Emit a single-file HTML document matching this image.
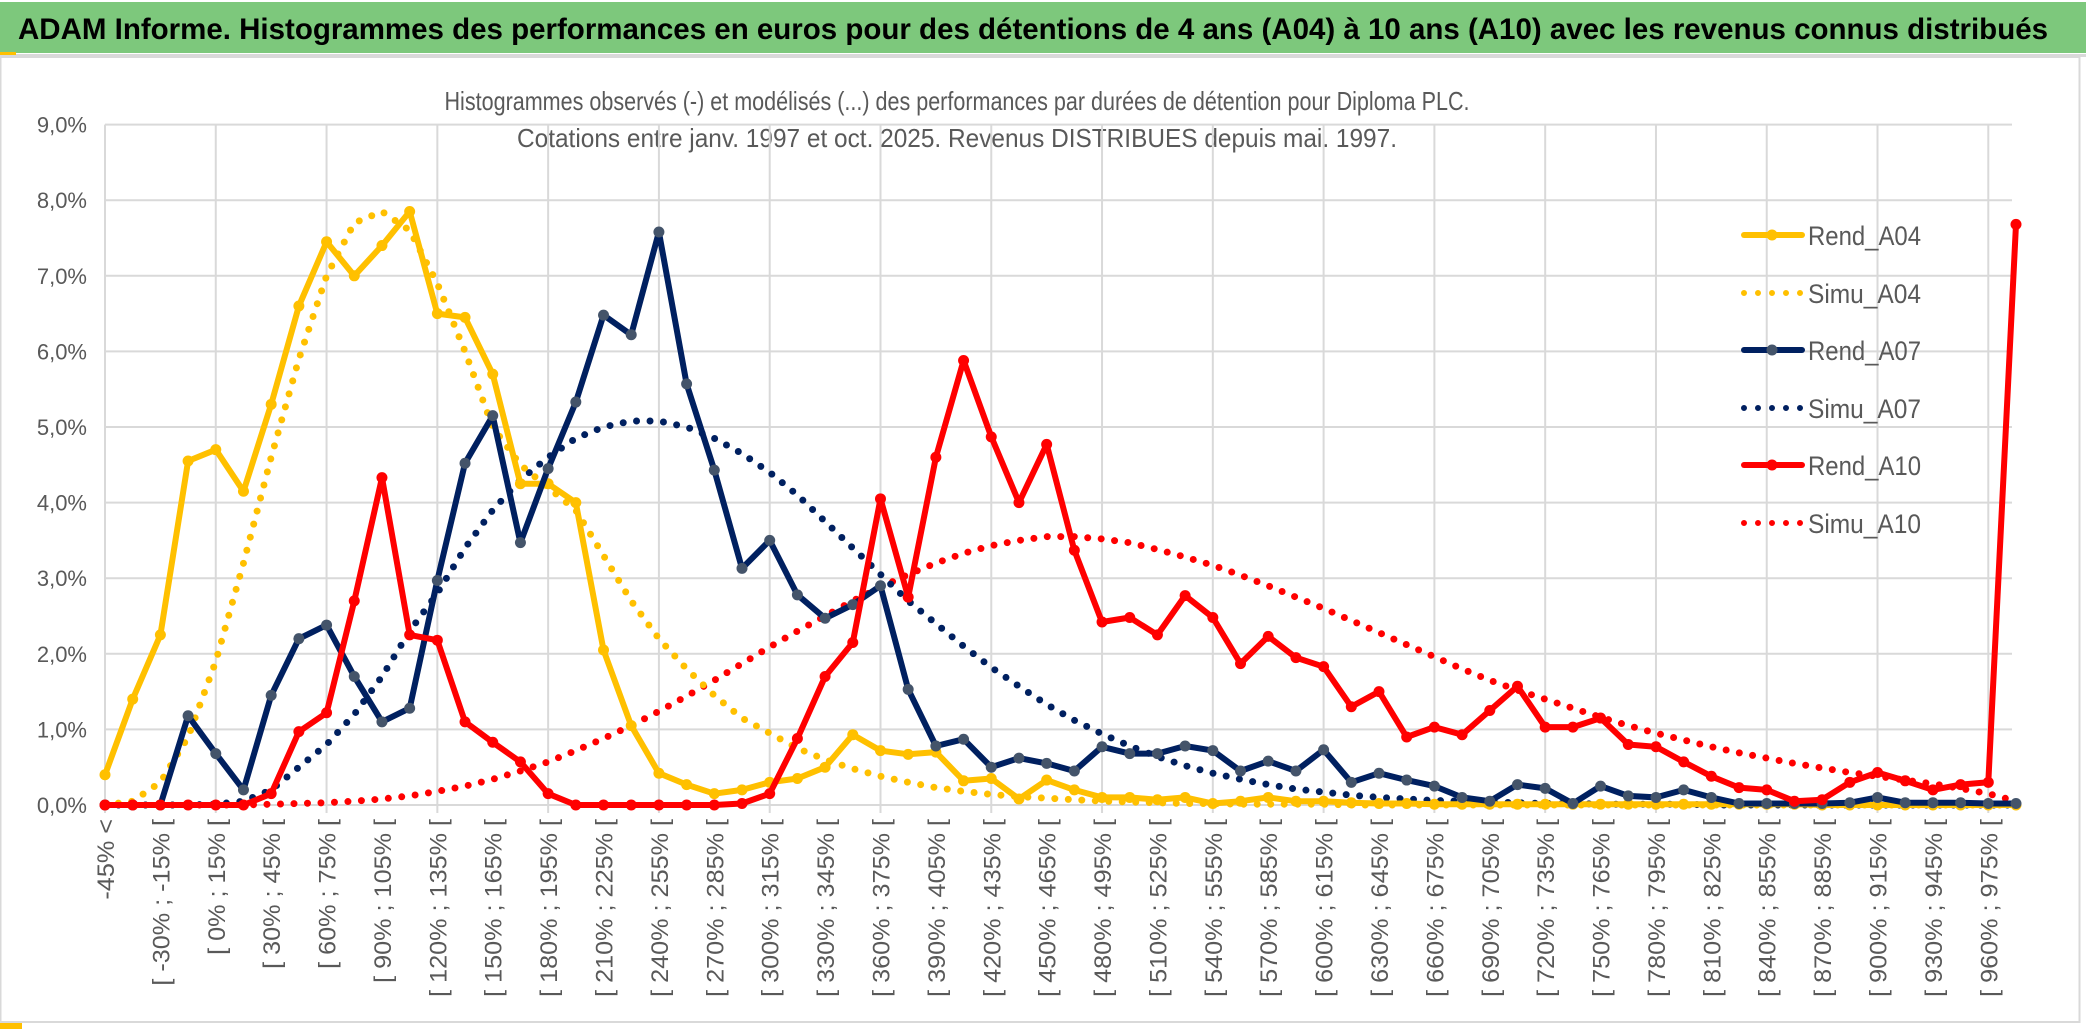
<!DOCTYPE html>
<html><head><meta charset="utf-8"><title>ADAM Informe</title>
<style>
html,body{margin:0;padding:0;background:#fff;}
svg{display:block;font-family:"Liberation Sans",sans-serif;}
</style></head>
<body>
<svg id="chart" width="2086" height="1033" viewBox="0 0 2086 1033" xmlns="http://www.w3.org/2000/svg">
  <rect x="0" y="0" width="2086" height="1033" fill="#fff"/>
  <rect x="0" y="2" width="2086" height="51" fill="#7dc87c"/>
  <rect x="0" y="54" width="2086" height="3" fill="#d9d9d9"/>
  <rect x="0" y="52" width="16" height="3" fill="#ffc000"/>
  <text x="18" y="39" font-size="30" font-weight="bold" fill="#000" textLength="2030" lengthAdjust="spacingAndGlyphs">ADAM Informe. Histogrammes des performances en euros pour des détentions de 4 ans (A04) à 10 ans (A10) avec les revenus connus distribués</text>
  <rect x="0.5" y="57" width="2079" height="965" fill="none" stroke="#d9d9d9" stroke-width="2"/>
  <rect x="0" y="1023" width="22" height="6" fill="#ffc000"/>
  <text x="957" y="110" font-size="26" fill="#595959" text-anchor="middle" textLength="1025" lengthAdjust="spacingAndGlyphs">Histogrammes observés (-) et modélisés (...) des performances par durées de détention pour Diploma PLC.</text>
  <text x="957" y="147" font-size="26" fill="#595959" text-anchor="middle" textLength="880" lengthAdjust="spacingAndGlyphs">Cotations entre janv. 1997 et oct. 2025. Revenus DISTRIBUES depuis mai. 1997.</text>
  <g id="grid"></g>
  <g id="yaxis"></g>
  <g id="xaxis"></g>
  <g id="series"></g>
  <g id="legend"></g>
</svg>
<script>
const yTicks = [0,1,2,3,4,5,6,7,8,9];
const yTickLabels = ["0,0%","1,0%","2,0%","3,0%","4,0%","5,0%","6,0%","7,0%","8,0%","9,0%"];
const categoryCount = 70;
const rendA04 = [0.4,1.4,2.25,4.55,4.7,4.15,5.3,6.6,7.45,7.0,7.4,7.85,6.5,6.45,5.7,4.25,4.25,4.0,2.05,1.05,0.42,0.27,0.15,0.2,0.3,0.35,0.5,0.93,0.72,0.67,0.7,0.32,0.35,0.08,0.33,0.2,0.1,0.1,0.07,0.1,0.02,0.05,0.1,0.05,0.05,0.03,0.02,0.02,0.01,0.01,0.01,0.01,0.01,0.01,0.01,0.01,0.01,0.01,0.01,0.01,0.01,0.01,0.0,0.0,0.0,0.0,0.0,0.0,0.0,0.0];
const simuA04 = [0.0,0.05,0.3,0.9,1.9,3.2,4.6,5.9,7.0,7.7,7.85,7.6,6.9,6.0,5.0,4.5,4.2,3.9,3.3,2.7,2.2,1.8,1.45,1.15,0.95,0.75,0.6,0.48,0.38,0.3,0.23,0.18,0.14,0.11,0.09,0.07,0.05,0.04,0.03,0.02,0.02,0.01,0.01,0.01,0.01,0.0,0.0,0.0,0.0,0.0,0.0,0.0,0.0,0.0,0.0,0.0,0.0,0.0,0.0,0.0,0.0,0.0,0.0,0.0,0.0,0.0,0.0,0.0,0.0,0.0];
const rendA07 = [0,0,0,1.18,0.68,0.2,1.45,2.2,2.38,1.7,1.1,1.28,2.97,4.52,5.15,3.47,4.45,5.33,6.48,6.22,7.58,5.57,4.43,3.13,3.5,2.78,2.47,2.65,2.9,1.53,0.78,0.87,0.5,0.62,0.55,0.45,0.77,0.68,0.68,0.78,0.72,0.45,0.58,0.45,0.73,0.3,0.42,0.33,0.25,0.1,0.05,0.27,0.22,0.02,0.25,0.12,0.1,0.2,0.1,0.02,0.02,0.02,0.02,0.03,0.1,0.03,0.03,0.03,0.02,0.02];
const simuA07 = [0,0,0,0,0.01,0.05,0.2,0.5,0.8,1.2,1.7,2.3,2.8,3.4,3.9,4.3,4.6,4.85,5.0,5.08,5.08,5.0,4.85,4.65,4.4,4.1,3.75,3.4,3.05,2.7,2.4,2.1,1.82,1.57,1.33,1.12,0.94,0.78,0.64,0.52,0.42,0.34,0.27,0.21,0.17,0.13,0.1,0.08,0.06,0.05,0.04,0.03,0.02,0.02,0.01,0.01,0.01,0.01,0,0,0,0,0,0,0,0,0,0,0,0];
const rendA10 = [0,0,0,0,0,0,0.15,0.97,1.22,2.7,4.33,2.25,2.18,1.1,0.83,0.57,0.15,0,0,0,0,0,0,0.02,0.15,0.88,1.7,2.15,4.05,2.75,4.6,5.88,4.87,4.0,4.77,3.37,2.42,2.48,2.25,2.77,2.48,1.87,2.23,1.95,1.83,1.3,1.5,0.9,1.03,0.93,1.25,1.57,1.03,1.03,1.15,0.8,0.77,0.57,0.38,0.23,0.2,0.05,0.07,0.3,0.43,0.32,0.2,0.27,0.3,7.68];
const simuA10 = [0,0,0,0,0,0,0.01,0.02,0.03,0.05,0.08,0.12,0.18,0.25,0.34,0.45,0.57,0.72,0.88,1.05,1.24,1.44,1.65,1.87,2.09,2.3,2.5,2.7,2.88,3.05,3.2,3.33,3.43,3.5,3.55,3.55,3.52,3.47,3.38,3.28,3.17,3.04,2.9,2.75,2.6,2.44,2.28,2.12,1.96,1.8,1.65,1.52,1.4,1.28,1.16,1.05,0.95,0.86,0.77,0.69,0.62,0.55,0.49,0.43,0.38,0.33,0.28,0.22,0.15,0.05];
const seriesNames = ["Rend_A04","Simu_A04","Rend_A07","Simu_A07","Rend_A10","Simu_A10"];

const NS = "http://www.w3.org/2000/svg";
const X0 = 105, X1 = 2016, Y0 = 805, YPER = 75.6;
function xPos(i){ return X0 + i*(X1-X0)/(categoryCount-1); }
function yPos(v){ return Y0 - v*YPER; }
function catLabel(i){
  if(i===0) return "-45% <";
  if(i===categoryCount-1) return "975% >=";
  const lo = -45 + 15*(i-1);
  return "[ " + lo + "% ; " + (lo+15) + "% [";
}
function mk(tag, attrs, parent){
  const e = document.createElementNS(NS, tag);
  for(const k in attrs) e.setAttribute(k, attrs[k]);
  parent.appendChild(e);
  return e;
}
const grid = document.getElementById('grid');
const yaxis = document.getElementById('yaxis');
const xaxis = document.getElementById('xaxis');
const series = document.getElementById('series');
const legend = document.getElementById('legend');

yTicks.forEach((t, k) => {
  const l = mk('line', {x1:X0, x2:2012, y1:yPos(t), y2:yPos(t), stroke:'#d9d9d9', 'stroke-width':2}, grid);
  
  
  const tx = mk('text', {x:87, y:yPos(t)+8, 'font-size':22, fill:'#595959', 'text-anchor':'end'}, yaxis);
  tx.textContent = yTickLabels[k];
  
  
});
for(let i=0;i<categoryCount;i+=4){
  const l = mk('line', {x1:xPos(i), x2:xPos(i), y1:yPos(9), y2:Y0+8, stroke:'#d9d9d9', 'stroke-width':2}, grid);
  
  
}
for(let i=0;i<categoryCount-1;i+=2){
  const tx = mk('text', {x:0, y:0, 'font-size':24, fill:'#595959', 'text-anchor':'end',
    transform:'translate(' + (xPos(i)+9) + ',' + (Y0+14) + ') rotate(-90)'}, xaxis);
  tx.textContent = catLabel(i);
  
  
  const w = tx.getComputedTextLength();
  if(w > 0){ tx.setAttribute('textLength', (w*1.05).toFixed(1)); tx.setAttribute('lengthAdjust','spacingAndGlyphs'); }
}
function pts(arr){ return arr.map((v,i)=>xPos(i).toFixed(1)+','+yPos(v).toFixed(1)).join(' '); }
function dotted(arr, color, name){
  const p = mk('polyline', {points:pts(arr), fill:'none', stroke:color, 'stroke-width':7, 'stroke-linecap':'round', 'stroke-dasharray':'0 13.5'}, series);
  
  
}
function solid(arr, color, markerColor, name){
  const p = mk('polyline', {points:pts(arr), fill:'none', stroke:color, 'stroke-width':6, 'stroke-linejoin':'round'}, series);
  
  
  arr.forEach((v,i)=>{
    const c = mk('circle', {cx:xPos(i), cy:yPos(v), r:5.5, fill:markerColor}, series);
    
    
  });
}
dotted(simuA10, '#ff0000', 'simu-a10-line');
dotted(simuA07, '#002060', 'simu-a07-line');
dotted(simuA04, '#ffc000', 'simu-a04-line');
solid(rendA04, '#ffc000', '#ffc000', 'rend-a04-line');
solid(rendA07, '#002060', '#44546a', 'rend-a07-line');
solid(rendA10, '#ff0000', '#ff0000', 'rend-a10-line');

const legY = [235,293,350,408,465,523];
const legColors = ['#ffc000','#ffc000','#002060','#002060','#ff0000','#ff0000'];
const legMarker = ['#ffc000',null,'#44546a',null,'#ff0000',null];
seriesNames.forEach((n,k)=>{
  const y = legY[k];
  if(legMarker[k]){
    const l = mk('line', {x1:1744, x2:1802, y1:y, y2:y, stroke:legColors[k], 'stroke-width':6, 'stroke-linecap':'round'}, legend);
    
    
    const c = mk('circle', {cx:1772, cy:y, r:5.5, fill:legMarker[k]}, legend);
    
    
  } else {
    const l = mk('line', {x1:1744, x2:1802, y1:y, y2:y, stroke:legColors[k], 'stroke-width':6, 'stroke-linecap':'round', 'stroke-dasharray':'0 14'}, legend);
    
    
  }
  const t = mk('text', {x:1808, y:y+10, 'font-size':27, fill:'#595959', textLength:113, lengthAdjust:'spacingAndGlyphs'}, legend);
  t.textContent = n;
  
  
});
</script>
</body></html>
